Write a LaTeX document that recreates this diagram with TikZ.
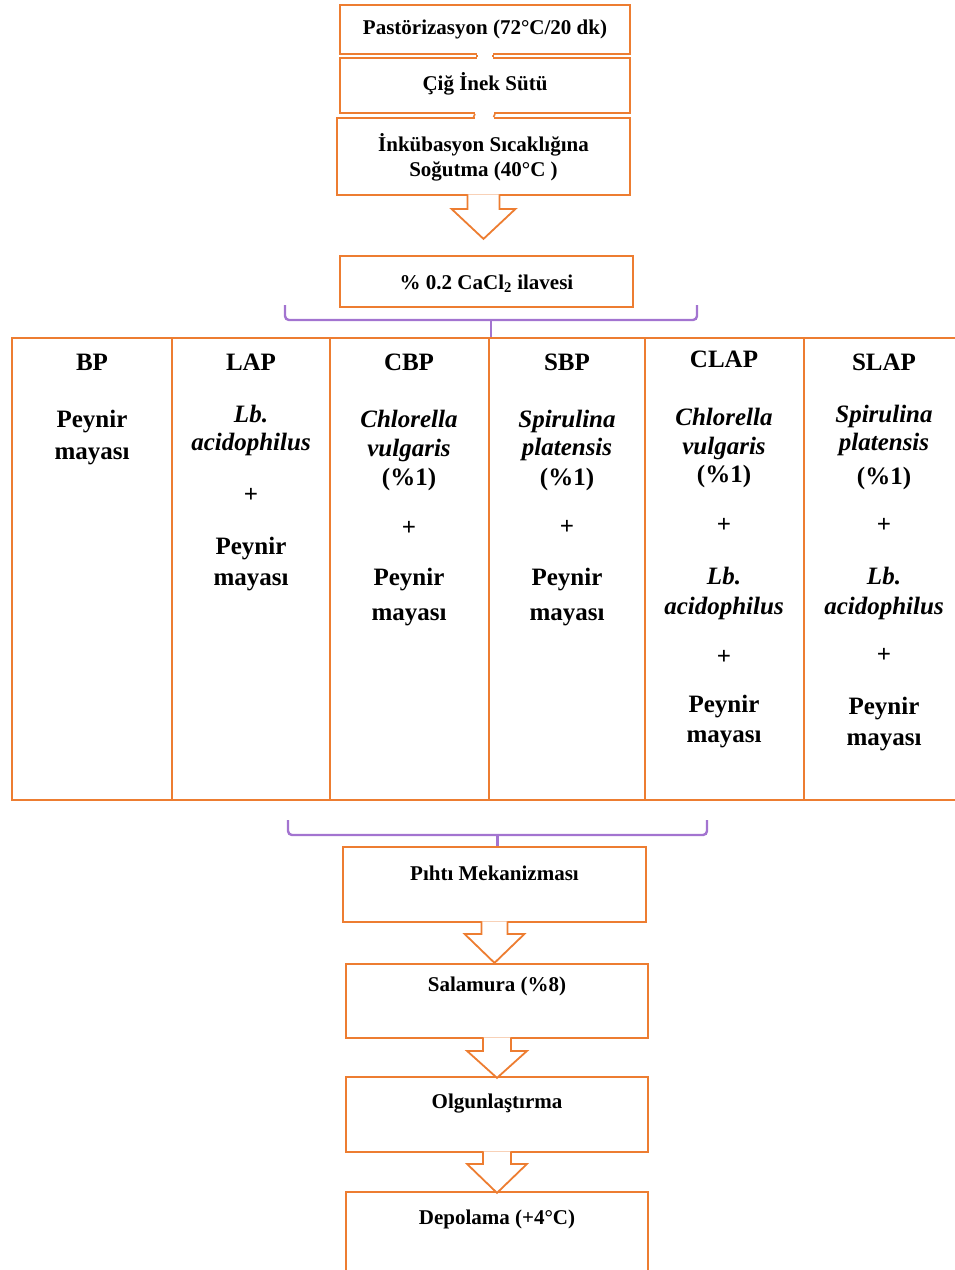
\documentclass[tikz,border=0pt]{standalone}
\usepackage{fontspec}
\setmainfont{Liberation Serif}
\usetikzlibrary{calc}
\definecolor{orng}{HTML}{ED7D31}
\definecolor{purp}{HTML}{A374D0}

% block arrow hanging under a box: node, shaft half width, shaft length, head half width, tip distance
\newcommand\blockarrow[5]{%
  \path[blk] ($(#1.south)+(-#2,-1.6)$) -- ($(#1.south)+(-#2,#3)$) -- ($(#1.south)+(-#4,#3)$)
    -- ($(#1.south)+(0,#5)$) -- ($(#1.south)+(#4,#3)$) -- ($(#1.south)+(#2,#3)$) -- ($(#1.south)+(#2,-1.6)$);}
% short joint between two stacked boxes
\newcommand\joint[3]{%
  \fill[white] ($(#1.south)+(-#3,-1.6)$) rectangle ($(#2.north)+(#3,1.6)$);
  \draw[orng,line width=1.6pt] ($(#1.south)+(-#3,0)$) -- ($(#2.north)+(-#3,0)$)
    ($(#1.south)+(#3,0)$) -- ($(#2.north)+(#3,0)$);}

\begin{document}
\begin{tikzpicture}[x=1pt,y=-1pt,
  box/.style={draw=orng,line width=1.8pt,fill=white,inner sep=0pt},
  col/.style={draw=orng,line width=1.8pt,inner sep=0pt,minimum height=462pt},
  blk/.style={draw=orng,line width=1.8pt,fill=white,line join=miter},
  brk/.style={draw=purp,line width=2.4pt,rounded corners=4pt},
  small/.style={font=\fontsize{21}{25}\selectfont\bfseries,inner sep=0pt,align=center,yshift=-2.5pt},
  big/.style={font=\fontsize{25}{29}\selectfont\bfseries,inner sep=0pt,text height=0.7em,text depth=0.25em,yshift=-5pt},
  bigit/.style={big,font=\fontsize{25}{29}\selectfont\bfseries\itshape},
]
\useasboundingbox (0,0) rectangle (955,1270);

% upper process boxes
\node[box,minimum width=290pt,minimum height=49pt] (b1) at (485,29.5) {};
\node[box,minimum width=290pt,minimum height=55pt] (b2) at (485,85.5) {};
\node[box,minimum width=293pt,minimum height=77pt] (b3) at (483.5,156.5) {};
\node[box,minimum width=293pt,minimum height=51pt] (b4) at (486.5,281.5) {};
\joint{b1}{b2}{8}
\joint{b2}{b3}{10}
\blockarrow{b3}{16}{13}{32}{43}

\node[small] (t1) at ($(b1.north)+(0,23)$) {Pastörizasyon (72°C/20 dk)};
\node[small] (t2) at ($(b2.north)+(0,24)$) {Çiğ İnek Sütü};
\node[small] (t3) at ($(b3.north)+(0,37.5)$) {İnkübasyon Sıcaklığına\\Soğutma (40°C )};
\node[small] (t4) at (b4) {\% 0.2 CaCl\textsubscript{2} ilavesi};

% treatment columns
\node[col,minimum width=160pt] (c1) at (92,569) {};
\node[col,minimum width=158pt] (c2) at (251,569) {};
\node[col,minimum width=159pt] (c3) at (409.5,569) {};
\node[col,minimum width=156pt] (c4) at (567,569) {};
\node[col,minimum width=159pt] (c5) at (724.5,569) {};
\node[col,minimum width=160pt] (c6) at (884,569) {};

% upper bracket
\coordinate (tl) at (285,305);
\coordinate (tr) at (697,305);
\coordinate (tc) at (491,320);
\draw[brk] (tl) -- ++(0,15) -- ($(tr)+(0,15)$) -- (tr);
\draw[brk,rounded corners=0pt] (tc) -- (tc |- c4.north);

% column texts
\node[big] (h1) at (92,363) {BP};
\node[big] (c1a) at (92,420) {Peynir};
\node[big] (c1b) at (92,452) {mayası};

\node[big] (h2) at (251,363) {LAP};
\node[bigit] (c2a) at (251,415) {Lb.};
\node[bigit] (c2b) at (251,443) {acidophilus};
\node[big] (c2c) at (251,495) {+};
\node[big] (c2d) at (251,547) {Peynir};
\node[big] (c2e) at (251,578) {mayası};

\node[big] (h3) at (409,363) {CBP};
\node[bigit] (c3a) at (409,420) {Chlorella};
\node[bigit] (c3b) at (409,449) {vulgaris};
\node[big] (c3c) at (409,478) {(\%1)};
\node[big] (c3d) at (409,528) {+};
\node[big] (c3e) at (409,578) {Peynir};
\node[big] (c3f) at (409,613) {mayası};

\node[big] (h4) at (567,363) {SBP};
\node[bigit] (c4a) at (567,420) {Spirulina};
\node[bigit] (c4b) at (567,448) {platensis};
\node[big] (c4c) at (567,478) {(\%1)};
\node[big] (c4d) at (567,527) {+};
\node[big] (c4e) at (567,578) {Peynir};
\node[big] (c4f) at (567,613) {mayası};

\node[big] (h5) at (724,360) {CLAP};
\node[bigit] (c5a) at (724,418) {Chlorella};
\node[bigit] (c5b) at (724,447) {vulgaris};
\node[big] (c5c) at (724,475) {(\%1)};
\node[big] (c5d) at (724,525) {+};
\node[bigit] (c5e) at (724,577) {Lb.};
\node[bigit] (c5f) at (724,607) {acidophilus};
\node[big] (c5g) at (724,657) {+};
\node[big] (c5h) at (724,705) {Peynir};
\node[big] (c5i) at (724,735) {mayası};

\node[big] (h6) at (884,363) {SLAP};
\node[bigit] (c6a) at (884,415) {Spirulina};
\node[bigit] (c6b) at (884,443) {platensis};
\node[big] (c6c) at (884,477) {(\%1)};
\node[big] (c6d) at (884,525) {+};
\node[bigit] (c6e) at (884,577) {Lb.};
\node[bigit] (c6f) at (884,607) {acidophilus};
\node[big] (c6g) at (884,655) {+};
\node[big] (c6h) at (884,707) {Peynir};
\node[big] (c6i) at (884,738) {mayası};

% lower process boxes
\node[box,minimum width=303pt,minimum height=75pt] (b5) at (494.5,884.5) {};
\node[box,minimum width=302pt,minimum height=74pt] (b6) at (497,1001) {};
\node[box,minimum width=302pt,minimum height=75pt] (b7) at (497,1114.5) {};
\node[box,minimum width=302pt,minimum height=82pt] (b8) at (497,1233) {};
\blockarrow{b5}{13}{11}{30}{40}
\blockarrow{b6}{14}{12}{30}{39}
\blockarrow{b7}{14}{11}{30}{40}

% lower bracket
\coordinate (bl) at (288,820);
\coordinate (br) at (707,820);
\coordinate (bc) at (497.5,835);
\draw[brk] (bl) -- ++(0,15) -- ($(br)+(0,15)$) -- (br);
\draw[brk,rounded corners=0pt] (bc) -- (bc |- b5.north);

\node[small] (t5) at ($(b5.north)+(0,25)$) {Pıhtı Mekanizması};
\node[small] (t6) at ($(b6.north)+(0,21)$) {Salamura (\%8)};
\node[small] (t7) at ($(b7.north)+(0,25)$) {Olgunlaştırma};
\node[small] (t8) at ($(b8.north)+(0,26)$) {Depolama (+4°C)};
\end{tikzpicture}
\end{document}
